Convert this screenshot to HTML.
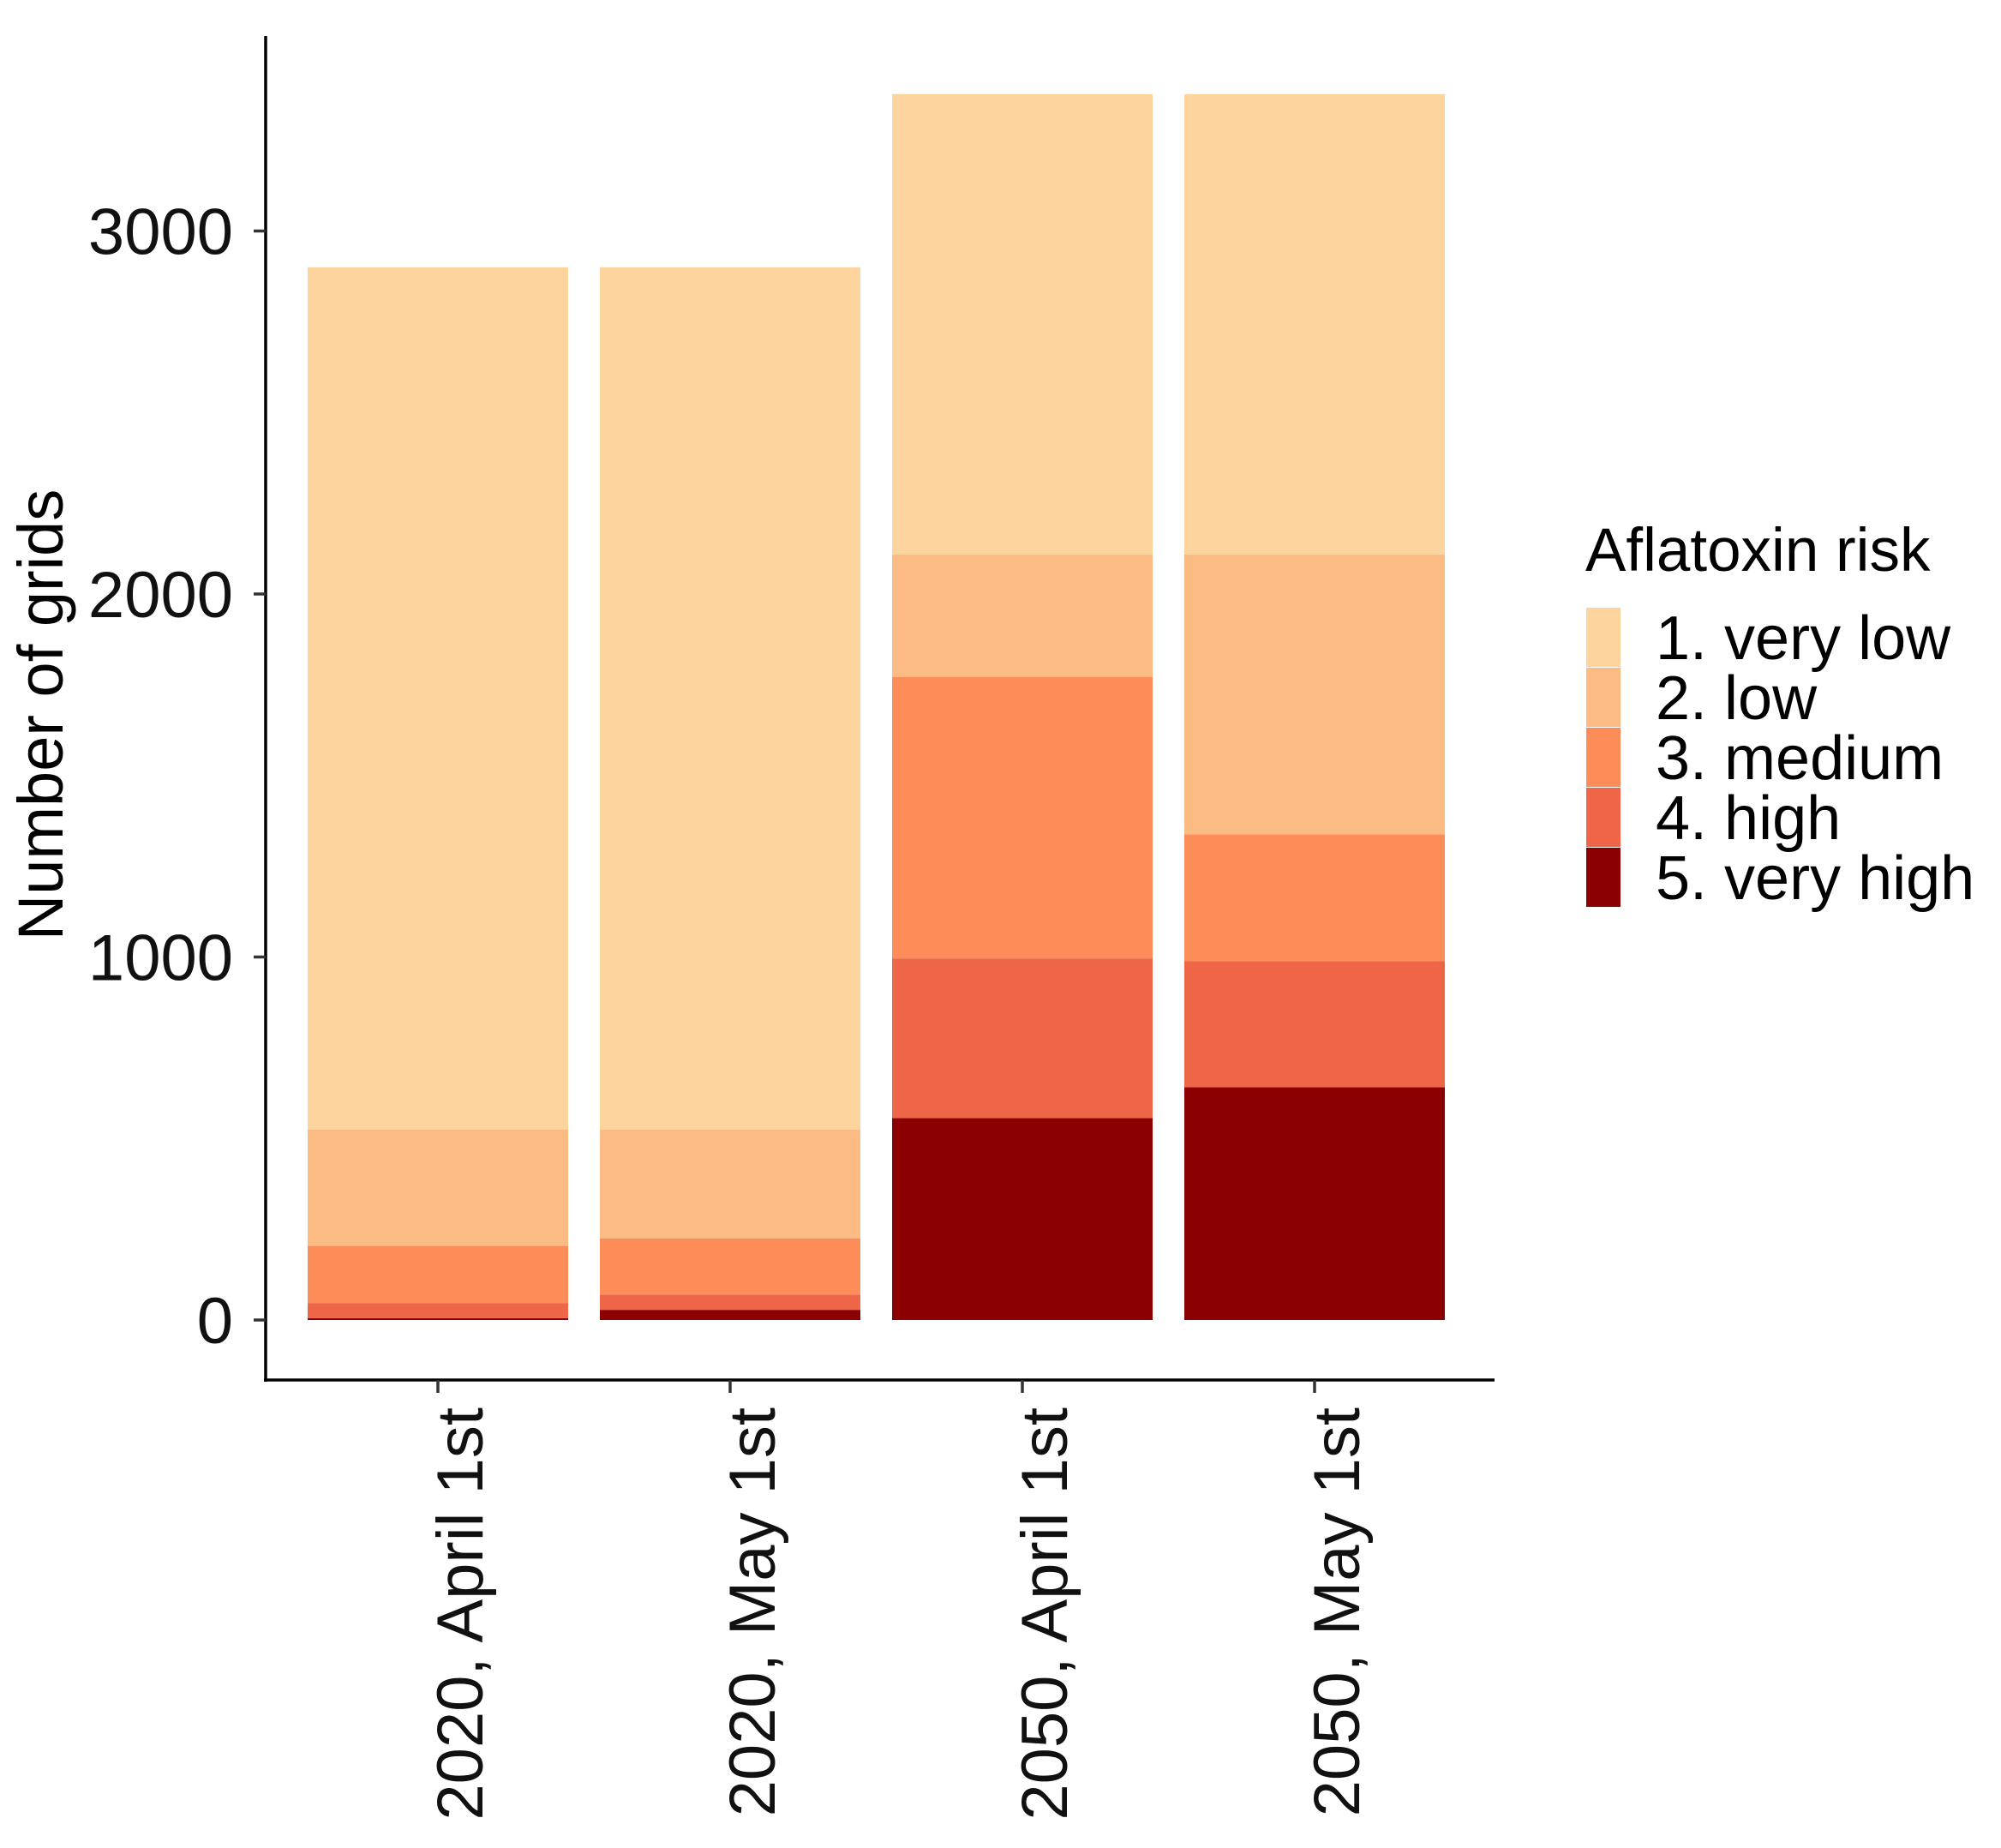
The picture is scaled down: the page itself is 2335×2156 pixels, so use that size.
<!DOCTYPE html>
<html><head><meta charset="utf-8"><style>
html,body{margin:0;padding:0;background:#fff;}
svg{display:block;font-family:"Liberation Sans",Arial,sans-serif;}
</style></head><body>
<svg id="chart" width="2335" height="2156" viewBox="0 0 2335 2156" xmlns="http://www.w3.org/2000/svg">
<rect width="2335" height="2156" fill="#fff"/>
<g id="bars"></g>
<g id="axes"></g>
<g id="legend"></g>
</svg>
<script>
const categories = ["2020, April 1st","2020, May 1st","2050, April 1st","2050, May 1st"];
const riskLevels = ["1. very low","2. low","3. medium","4. high","5. very high"];
const veryHigh = [5, 28, 556, 641];
const high = [41, 42, 440, 348];
const medium = [158, 155, 775, 349];
const low = [321, 300, 338, 771];
const veryLow = [2375, 2375, 1268, 1268];
const yTicks = [0, 1000, 2000, 3000];
const colors = ["#fdd49e","#fdbb84","#fc8d59","#ef6548","#8b0000"];

const NS = "http://www.w3.org/2000/svg";
const y0 = 1540, pxPer = 0.4235;
function yScale(v){ return y0 - v*pxPer; }
const xStart = 359, step = 341, barW = 304;
function xScale(i){ return xStart + i*step; }
function mk(tag, attrs, parent){ const e=document.createElementNS(NS,tag); for(const k in attrs) e.setAttribute(k,attrs[k]); parent.appendChild(e); return e; }

const bars = document.getElementById('bars');
const stackOrder = [veryHigh, high, medium, low, veryLow];
const stackColors = [colors[4],colors[3],colors[2],colors[1],colors[0]];
const stackNames = ["very-high","high","medium","low","very-low"];
categories.forEach((c,i)=>{
  let cum = 0;
  stackOrder.forEach((s,k)=>{
    const v = s[i];
    const r = mk('rect',{x:xScale(i), y:yScale(cum+v), width:barW, height:v*pxPer, fill:stackColors[k]}, bars);
    
    
    cum += v;
  });
});

const axes = document.getElementById('axes');
const ya = mk('line',{x1:310,y1:42,x2:310,y2:1612,stroke:'#000','stroke-width':3.5},axes);


const xa = mk('line',{x1:308,y1:1610,x2:1744,y2:1610,stroke:'#000','stroke-width':3.5},axes);


yTicks.forEach(t=>{
  const y=yScale(t);
  const tk = mk('line',{x1:296,y1:y,x2:310,y2:y,stroke:'#333','stroke-width':3.5},axes);
  
  
  const tx = mk('text',{x:272,y:y+27,'text-anchor':'end','font-size':76,fill:'#111'},axes);
  tx.textContent = t;
  
  
});
categories.forEach((c,i)=>{
  const cx = xScale(i)+barW/2;
  const tk = mk('line',{x1:cx,y1:1610,x2:cx,y2:1625,stroke:'#333','stroke-width':3.5},axes);
  
  
  const tx = mk('text',{x:0,y:0,'text-anchor':'end','font-size':76,fill:'#111',transform:'translate('+(cx+52)+',1642) rotate(-90)'},axes);
  tx.textContent = c;
  
  
});
const yt = mk('text',{x:0,y:0,'text-anchor':'middle','font-size':74,fill:'#000',transform:'translate(73,834) rotate(-90)'},axes);
yt.textContent = 'Number of grids';



const lg = document.getElementById('legend');
const lt = mk('text',{x:1850,y:666,'font-size':71,fill:'#000'},lg);
lt.textContent = 'Aflatoxin risk';


riskLevels.forEach((r,k)=>{
  const y = 709 + k*70;
  const key = mk('rect',{x:1851,y:y,width:40,height:69,fill:colors[k]},lg);
  
  
  const t = mk('text',{x:1932,y:y+60,'font-size':72,fill:'#000'},lg);
  t.textContent = r;
  
  
});
</script>
</body></html>
